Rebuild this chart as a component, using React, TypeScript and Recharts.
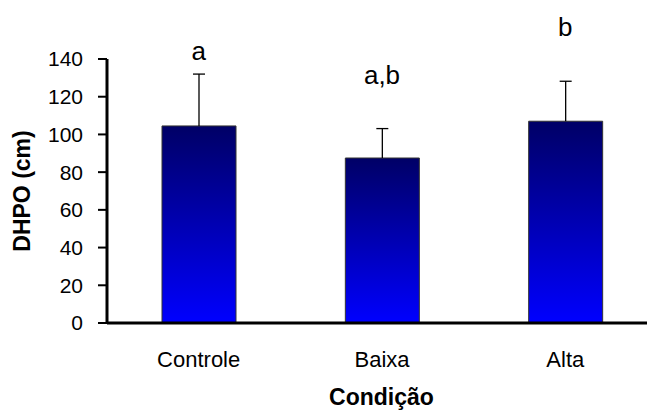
import React from "react";
import {
    BarChart,
    Bar,
    XAxis,
    YAxis,
    ReferenceDot,
    Label,
} from "recharts";

const categories = ["Controle", "Baixa", "Alta"];
const dhpoMeans = [104.5, 87.5, 107];
const dhpoErrors = [27.5, 15.6, 21.2];
const letters = ["a", "a,b", "b"];
// height (in cm, axis units) where each significance letter sits
const letterLevels = [144.3, 131.6, 156.9];
const yTicks = [0, 20, 40, 60, 80, 100, 120, 140];

const chartData = categories.map((name, i) => ({
    name,
    dhpo: dhpoMeans[i],
    err: dhpoErrors[i],
}));

const FONT = "'Liberation Sans', Arial, sans-serif";

// upper-only error whisker, stacked on top of the mean bar
const Whisker = (props: any) => {
    const { x, y, width, height } = props;
    const cx = x + width / 2;
    return (
        <g stroke="#000" strokeWidth={1.3}>
            <line x1={cx} y1={y + height} x2={cx} y2={y} />
            <line x1={cx - 6} y1={y} x2={cx + 6} y2={y} />
        </g>
    );
};

const App = () => {
    return (
        <div
            style={{
                position: "absolute",
                left: 0,
                top: 0,
                width: 647,
                height: 413,
                overflow: "hidden",
                background: "#fff",
                fontFamily: FONT,
            }}
        >
            <BarChart
                width={657}
                height={413}
                data={chartData}
                margin={{ top: 59, right: 0, left: 0, bottom: 0 }}
            >
                <defs>
                    <linearGradient id="barFill" x1="0" y1="0" x2="0" y2="1">
                        <stop offset="0%" stopColor="#000066" />
                        <stop offset="100%" stopColor="#0000FF" />
                    </linearGradient>
                </defs>
                <XAxis
                    dataKey="name"
                    height={90}
                    axisLine={{ stroke: "#000", strokeWidth: 3 }}
                    tickLine={false}
                    tickSize={0}
                    tickMargin={28}
                    tick={{ fill: "#000", fontSize: 22, fontFamily: FONT }}
                >
                    <Label
                        content={() => (
                            <text
                                x={381.5}
                                y={405}
                                textAnchor="middle"
                                fontSize={23}
                                fontWeight="bold"
                                fontFamily={FONT}
                                fill="#000"
                            >
                                Condição
                            </text>
                        )}
                    />
                </XAxis>
                <YAxis
                    width={107}
                    domain={[0, 140]}
                    ticks={yTicks}
                    interval={0}
                    allowDataOverflow
                    axisLine={{ stroke: "#000", strokeWidth: 3 }}
                    tickLine={{ stroke: "#000", strokeWidth: 2 }}
                    tickSize={9}
                    tickMargin={15}
                    tick={{ fill: "#000", fontSize: 21, fontFamily: FONT }}
                >
                    <Label
                        content={() => (
                            <text
                                transform="translate(22,191) rotate(-90)"
                                textAnchor="middle"
                                dominantBaseline="central"
                                fontSize={23}
                                fontWeight="bold"
                                fontFamily={FONT}
                                fill="#000"
                            >
                                DHPO (cm)
                            </text>
                        )}
                    />
                </YAxis>
                <Bar
                    dataKey="dhpo"
                    stackId="s"
                    barSize={74}
                    fill="url(#barFill)"
                    stroke="#333"
                    strokeWidth={1}
                    isAnimationActive={false}
                />
                <Bar
                    dataKey="err"
                    stackId="s"
                    barSize={74}
                    shape={<Whisker />}
                    isAnimationActive={false}
                />
                {categories.map((c, i) => (
                    <ReferenceDot
                        key={c}
                        x={c}
                        y={letterLevels[i]}
                        r={1}
                        fill="none"
                        stroke="none"
                        ifOverflow="visible"
                        label={{
                            value: letters[i],
                            position: "center",
                            fontSize: 26,
                            fontFamily: FONT,
                            fill: "#000",
                        }}
                    />
                ))}
            </BarChart>
        </div>
    );
};

export default App;
